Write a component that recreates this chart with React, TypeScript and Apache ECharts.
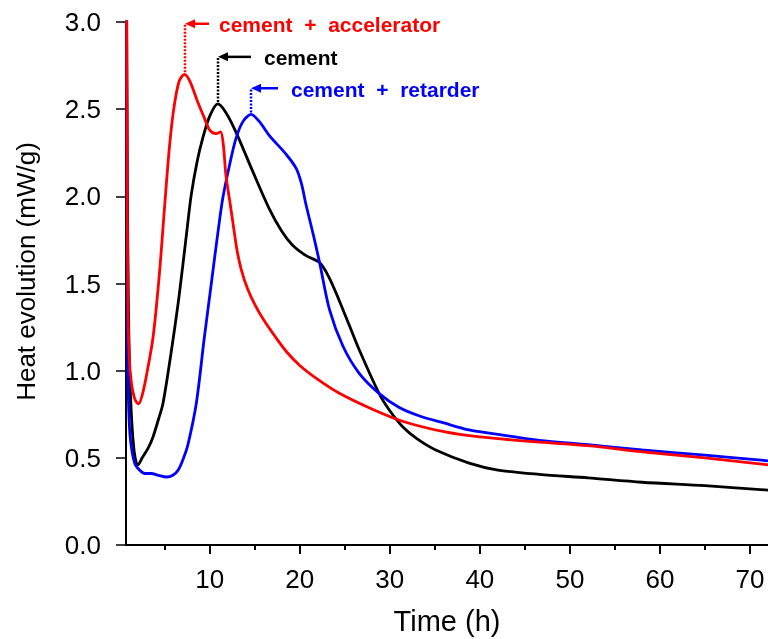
import React, { useEffect, useRef } from "react";
import * as echarts from "echarts";

// Time (h) / heat evolution (mW/g) readings
const acceleratorData: [number, number][] = [
  [0.75, 3.4], [0.82, 2.3], [0.9, 1.45], [1.05, 1.08], [1.3, 0.93], [1.6, 0.85], [1.85, 0.82], [2.1, 0.81],
  [2.5, 0.86], [3.0, 0.98], [3.7, 1.19], [4.4, 1.55], [5.0, 1.95], [5.5, 2.27], [6.0, 2.5], [6.6, 2.66],
  [7.2, 2.7], [7.8, 2.66], [8.6, 2.55], [9.4, 2.45], [10.0, 2.38], [10.7, 2.36], [11.2, 2.37], [11.5, 2.3],
  [11.8, 2.12], [12.2, 1.98], [12.6, 1.84], [13.0, 1.7], [13.5, 1.58], [14.2, 1.47], [15.0, 1.38],
  [16.0, 1.29], [17.2, 1.2], [18.5, 1.11], [20, 1.03], [22, 0.95], [24.4, 0.87], [28, 0.78], [31.4, 0.71],
  [36, 0.65], [40, 0.62], [46.6, 0.59], [52, 0.57], [58, 0.535], [65, 0.5], [72, 0.46],
];
const cementData: [number, number][] = [
  [0.75, 3.4], [0.85, 2.1], [0.95, 1.45], [1.1, 1.0], [1.35, 0.7], [1.6, 0.54], [1.85, 0.47], [2.0, 0.46],
  [2.5, 0.5], [3.2, 0.56], [3.7, 0.62], [4.3, 0.72], [4.8, 0.81], [5.7, 1.1], [6.5, 1.39], [7.0, 1.6],
  [7.5, 1.82], [7.95, 2.01], [8.6, 2.2], [9.2, 2.33], [10.0, 2.46], [10.9, 2.53], [11.8, 2.48], [12.9, 2.37],
  [14.8, 2.14], [16.6, 1.93], [18.0, 1.8], [19.2, 1.72], [20.7, 1.66], [22.2, 1.62], [23.3, 1.53],
  [24.4, 1.4], [25.5, 1.26], [26.6, 1.12], [28.8, 0.87], [30, 0.77], [31.4, 0.68], [33, 0.61], [35.1, 0.545],
  [38.8, 0.47], [42, 0.43], [46.6, 0.405], [52, 0.385], [58, 0.36], [65, 0.34], [72, 0.315],
];
const retarderData: [number, number][] = [
  [0.75, 3.4], [0.8, 2.0], [0.88, 1.1], [1.0, 0.78], [1.2, 0.6], [1.66, 0.47], [2.2, 0.43], [2.8, 0.41],
  [3.5, 0.41], [4.3, 0.4], [5.2, 0.39], [5.9, 0.4], [6.5, 0.43], [7.1, 0.5], [7.6, 0.58], [8.5, 0.81],
  [9.4, 1.19], [10.2, 1.51], [10.8, 1.75], [11.45, 1.99], [12.2, 2.18], [12.9, 2.33], [13.7, 2.43],
  [14.6, 2.47], [15.5, 2.43], [16.6, 2.35], [18.5, 2.24], [19.6, 2.16], [20.2, 2.07], [20.7, 1.95],
  [21.5, 1.78], [22.2, 1.62], [23.3, 1.35], [24.8, 1.14], [26.6, 0.985], [28.8, 0.87], [31, 0.79],
  [33.3, 0.74], [36, 0.7], [38.8, 0.66], [42, 0.635], [46.6, 0.6], [52, 0.575], [58, 0.545], [65, 0.515],
  [72, 0.483],
];

const seriesNames = ["cement", "cement + retarder", "cement + accelerator"];
const seriesColors = ["#000000", "#0000ff", "#ff0000"];

const xMajorTicks = [10, 20, 30, 40, 50, 60, 70];
const xMinorTicks = [5, 15, 25, 35, 45, 55, 65];

// annotations: label text, peak (t, v) and label level v
const annoLabels = ["cement  +  accelerator", "cement", "cement  +  retarder"];
const annoColors = ["#ff0000", "#000000", "#0000ff"];
const annoPeakT = [7.2, 10.9, 14.6];
const annoPeakV = [2.7, 2.53, 2.47];
const annoLabelV = [2.99, 2.8, 2.62];

export default function App() {
  const ref = useRef<HTMLDivElement>(null);
  useEffect(() => {
    document.body.style.margin = "0";
    const chart = echarts.init(ref.current!, null, { renderer: "svg" });
    const font = "'Liberation Sans', Arial, sans-serif";
    const dataSets = [cementData, retarderData, acceleratorData];
    chart.setOption({
      animation: false,
      grid: { left: 126, right: 0, top: 22, bottom: 94, containLabel: false, outerBoundsMode: "none" },
      xAxis: [
        {
          type: "value",
          min: 0.7,
          max: 72,
          name: "Time (h)",
          nameLocation: "middle",
          nameGap: 61,
          nameTextStyle: { fontSize: 29, color: "#000", fontFamily: font },
          axisLine: { show: true, onZero: false, lineStyle: { color: "#000", width: 2 } },
          axisTick: { show: true, inside: false, length: 9, customValues: xMajorTicks, lineStyle: { color: "#000", width: 2 } },
          axisLabel: { customValues: xMajorTicks, fontSize: 26, color: "#000", fontFamily: font, margin: 21 },
          splitLine: { show: false },
        },
        {
          type: "value",
          min: 0.7,
          max: 72,
          position: "bottom",
          axisLine: { show: false },
          axisTick: { show: true, inside: false, length: 5, customValues: xMinorTicks, lineStyle: { color: "#000", width: 2 } },
          axisLabel: { show: false },
          splitLine: { show: false },
        },
      ],
      yAxis: {
        type: "value",
        min: 0,
        max: 3,
        interval: 0.5,
        name: "Heat evolution (mW/g)",
        nameLocation: "middle",
        nameGap: 87,
        nameTextStyle: { fontSize: 26, color: "#000", fontFamily: font, padding: [0, 0, 0, 24] },
        axisLine: { show: true, onZero: false, lineStyle: { color: "#000", width: 2 } },
        axisTick: { show: true, inside: false, length: 10, lineStyle: { color: "#000", width: 1.5 } },
        axisLabel: { fontSize: 26, color: "#000", fontFamily: font, margin: 25, formatter: (v: number) => v.toFixed(1) },
        splitLine: { show: false },
      },
      series: dataSets.map((d, i) => ({
        type: "line",
        name: seriesNames[i],
        data: d,
        showSymbol: false,
        smooth: 0.3,
        clip: true,
        lineStyle: { color: seriesColors[i], width: 2.8 },
        itemStyle: { color: seriesColors[i] },
      })),
    });

    const arrowLen = [24, 33, 27];
    const textGap = [34, 46, 40];
    const elements: any[] = [];
    annoLabels.forEach((label, i) => {
      const peak = chart.convertToPixel({ gridIndex: 0 }, [annoPeakT[i], annoPeakV[i]]) as number[];
      const top = chart.convertToPixel({ gridIndex: 0 }, [annoPeakT[i], annoLabelV[i]]) as number[];
      const px = Math.round(peak[0]);
      const py = top[1];
      const c = annoColors[i];
      elements.push(
        {
          type: "line",
          shape: { x1: px, y1: peak[1] - 2, x2: px, y2: py },
          style: { stroke: c, lineWidth: 2.5, lineDash: [2, 1.5] },
          z: 10,
        },
        {
          type: "line",
          shape: { x1: px + 6, y1: py, x2: px + arrowLen[i], y2: py },
          style: { stroke: c, lineWidth: 2.5 },
          z: 10,
        },
        {
          type: "polygon",
          shape: { points: [[px, py], [px + 10, py - 4.5], [px + 10, py + 4.5]] },
          style: { fill: c },
          z: 10,
        },
        {
          type: "text",
          x: px + textGap[i],
          y: py + 1,
          style: {
            text: label,
            fill: c,
            font: `bold 21px ${font}`,
            verticalAlign: "middle",
            align: "left",
          },
          z: 10,
        }
      );
    });
    chart.setOption({ graphic: { elements } });

    return () => chart.dispose();
  }, []);
  return <div ref={ref} style={{ position: "fixed", left: 0, top: 0, width: 768, height: 639 }} />;
}
